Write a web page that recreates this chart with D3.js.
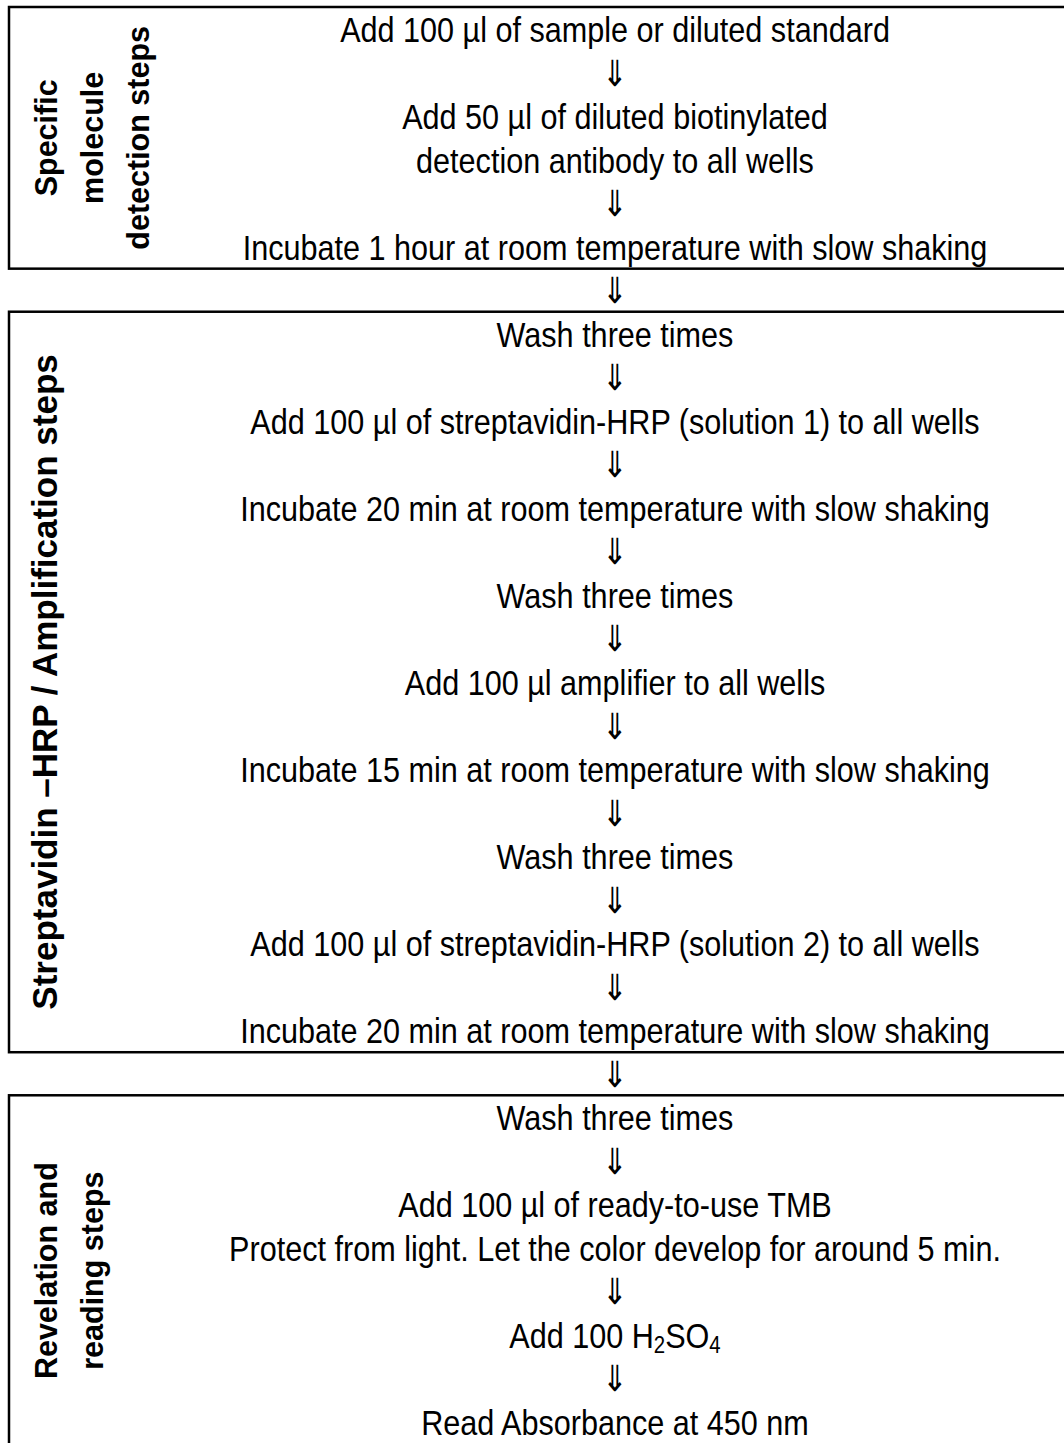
<!DOCTYPE html>
<html>
<head>
<meta charset="utf-8">
<script src="https://cdn.jsdelivr.net/npm/d3@7"></script>
<style>
  html, body { margin: 0; padding: 0; background: #fff; }
  svg { display: block; }
</style>
</head>
<body>
<div id="main"></div>
<script>
let width = 1064, height = 1443;

// one array of steps per box; a step is one or more lines, arrows go between steps
let detectionSteps = [
	["Add 100 µl of sample or diluted standard"],
	["Add 50 µl of diluted biotinylated", "detection antibody to all wells"],
	["Incubate 1 hour at room temperature with slow shaking"]
];
let amplificationSteps = [
	["Wash three times"],
	["Add 100 µl of streptavidin-HRP (solution 1) to all wells"],
	["Incubate 20 min at room temperature with slow shaking"],
	["Wash three times"],
	["Add 100 µl amplifier to all wells"],
	["Incubate 15 min at room temperature with slow shaking"],
	["Wash three times"],
	["Add 100 µl of streptavidin-HRP (solution 2) to all wells"],
	["Incubate 20 min at room temperature with slow shaking"]
];
let readingSteps = [
	["Wash three times"],
	["Add 100 µl of ready-to-use TMB", "Protect from light. Let the color develop for around 5 min."],
	["Add 100 H2SO4"],
	["Read Absorbance at 450 nm"]
];
let boxSteps = [detectionSteps, amplificationSteps, readingSteps];
let boxLabels = [
	["Specific", "molecule", "detection steps"],
	["Streptavidin –HRP / Amplification steps"],
	["Revelation and", "reading steps"]
];
const ARROW = "\u21D3";

// flatten into lines: {text, box} with arrows between steps and between boxes
let lines = [];
boxSteps.forEach((steps, b) => {
	if (b > 0) lines.push({text: ARROW, box: -1});
	steps.forEach((step, s) => {
		if (s > 0) lines.push({text: ARROW, box: b});
		step.forEach(t => lines.push({text: t, box: b}));
	});
});
lines.forEach((d, i) => d.i = i);

let y = d3.scaleLinear()
	.domain([0, lines.length - 1])
	.range([42, 1435]);

let cx = 615;
let sx = 0.85;   // narrow face

let svg = d3.select("#main")
	.append("svg")
		.attr("width", width)
		.attr("height", height);

// boxes
let boxes = boxSteps.map((s, b) => {
	let idx = lines.filter(d => d.box === b).map(d => d.i);
	let top = y(d3.min(idx)) - 35;
	let bottom = b === 2 ? 1446 : y(d3.max(idx)) + 9;
	return {b, top, bottom};
});

svg.selectAll("rect.box")
	.data(boxes)
	.enter()
	.append("rect")
		.attr("class", "box")
		.attr("x", 9)
		.attr("y", d => d.top)
		.attr("width", width + 20)
		.attr("height", d => d.bottom - d.top)
		.style("fill", "none")
		.style("stroke", "#000")
		.style("stroke-width", 2.5);

// step lines
let txt = svg.selectAll("g.line")
	.data(lines)
	.enter()
	.append("g")
		.attr("class", "line")
		.attr("transform", d => `translate(${cx},${y(d.i)}) scale(${sx},1)`)
	.append("text")
		.attr("text-anchor", "middle")
		.style("font-family", "'Liberation Sans', Arial, sans-serif")
		.style("font-size", "36px")
		.style("fill", "#000");

txt.each(function(d) {
	let t = d3.select(this);
	if (d.text === "Add 100 H2SO4") {
		t.append("tspan").text("Add 100 H");
		t.append("tspan").attr("dy", 5).style("font-size", "24px").text("2");
		t.append("tspan").attr("dy", -5).text("SO");
		t.append("tspan").attr("dy", 5).style("font-size", "24px").text("4");
	} else {
		t.text(d.text);
	}
});

// side labels, rotated
let labelG = svg.selectAll("g.label")
	.data(boxes)
	.enter()
	.append("g")
		.attr("class", "label")
		.attr("transform", d => `translate(0,${(d.top + d.bottom) / 2}) rotate(-90)`);

labelG.selectAll("text")
	.data(d => boxLabels[d.b].map(t => ({t, b: d.b})))
	.enter()
	.append("text")
		.attr("x", 0)
		.attr("y", (d, i) => 57 + i * 46)
		.attr("text-anchor", "middle")
		.style("font-family", "'Liberation Sans', Arial, sans-serif")
		.style("font-weight", "bold")
		.style("font-size", d => d.b === 1 ? "35px" : "30.5px")
		.text(d => d.t);
</script>
</body>
</html>
